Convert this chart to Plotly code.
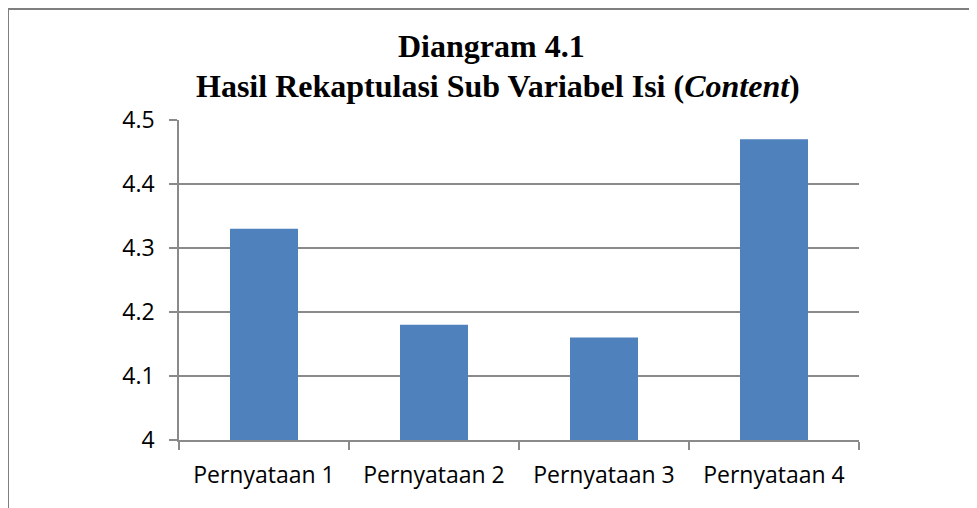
import plotly.graph_objects as go

categories = ["Pernyataan 1", "Pernyataan 2", "Pernyataan 3", "Pernyataan 4"]
scores = [4.33, 4.18, 4.16, 4.47]
title_lines = ["<b>Diangram 4.1</b>", "<b>Hasil Rekaptulasi Sub Variabel Isi (<i>Content</i>)</b>"]

# page body has an 8px margin, so figure coords = screen coords - 8
W, H = 977, 508
L, R, T, B = 171, 126, 112, 76
pw, ph = W - L - R, H - T - B


def px_to_paper(sx, sy):
    fx, fy = sx - 8, sy - 8
    return (fx - L) / pw, 1 + (T - fy) / ph


fig = go.Figure(go.Bar(x=categories, y=scores, marker=dict(color="#4F81BD", line=dict(width=0))))

fig.update_layout(
    width=W, height=H,
    margin=dict(l=L, r=R, t=T, b=B),
    paper_bgcolor="white", plot_bgcolor="white",
    bargap=0.6, showlegend=False,
    font=dict(family="Open Sans, Noto Sans, sans-serif", size=23, color="black"),
)
fig.update_yaxes(
    range=[4, 4.5], dtick=0.1, showgrid=True, gridcolor="#8a8a8a", gridwidth=1.5,
    showline=True, linecolor="#8a8a8a", linewidth=1.5, ticks="outside", ticklen=8,
    tickcolor="#8a8a8a", tickwidth=1.5, zeroline=False, ticklabelstandoff=10,
)
fig.update_xaxes(
    showline=True, linecolor="#8a8a8a", linewidth=1.5, ticks="outside", ticklen=8,
    tickcolor="#8a8a8a", tickwidth=1.5, tickson="boundaries", ticklabelstandoff=14,
)

# title, two lines set as separate annotations for tight line spacing
for text, sx, sy in [(title_lines[0], 491, 46), (title_lines[1], 498, 86)]:
    ax, ay = px_to_paper(sx, sy)
    fig.add_annotation(
        text=text, xref="paper", yref="paper", x=ax, y=ay,
        xanchor="center", yanchor="middle", showarrow=False,
        font=dict(family="Liberation Serif, Times New Roman, serif", size=32, color="black"),
    )

# outer chart frame (left and top edges visible in the crop)
bx0, by1 = px_to_paper(8, 9)
fig.add_shape(type="line", xref="paper", yref="paper", x0=bx0, x1=bx0, y0=-1, y1=by1,
              line=dict(color="#7f7f7f", width=2))
fig.add_shape(type="line", xref="paper", yref="paper", x0=bx0, x1=2, y0=by1, y1=by1,
              line=dict(color="#7f7f7f", width=2))

fig.write_html("out.html")
